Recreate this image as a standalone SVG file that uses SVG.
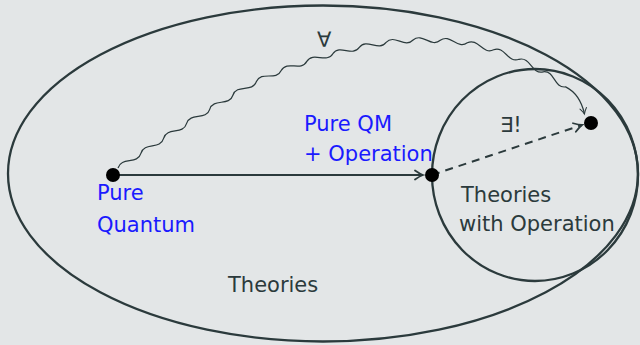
<svg xmlns="http://www.w3.org/2000/svg" width="640" height="345" viewBox="0 0 640 345">
<defs>
<style>
.bg{fill:#e3e6e7}
.set{fill:none;stroke:#2b3a3c;stroke-width:2.3}
.edge{fill:none;stroke:#2b3a3c;stroke-width:2}
.snake{fill:none;stroke:#2b3a3c;stroke-width:1.2}
.dot{fill:#000}
.lbl{font-family:"DejaVu Sans",sans-serif;font-size:21px;fill:#2b3a3c}
.blue{font-family:"DejaVu Sans",sans-serif;font-size:21px;fill:#1a1aff}
</style>
<marker id="arr" viewBox="-10 -6 12 12" refX="0" refY="0" markerWidth="12" markerHeight="12" markerUnits="userSpaceOnUse" orient="auto">
<path d="M-8,-4.5 Q-3,-1 0,0 Q-3,1 -8,4.5" fill="none" stroke="#2b3a3c" stroke-width="1.8" stroke-linecap="round"/>
</marker>
<marker id="arrs" viewBox="-10 -6 12 12" refX="0" refY="0" markerWidth="10" markerHeight="10" markerUnits="userSpaceOnUse" orient="auto">
<path d="M-7,-4 Q-3,-1 0,0 Q-3,1 -7,4" fill="none" stroke="#2b3a3c" stroke-width="1.2" stroke-linecap="round"/>
</marker>
</defs>
<rect class="bg" x="0" y="0" width="640" height="345"/>
<g id="theories">
<ellipse class="set" cx="323" cy="173.5" rx="315" ry="168"/>
<text class="lbl" x="228" y="292">Theories</text>
</g>
<g id="theories-with-operation">
<ellipse class="set" cx="535" cy="175" rx="103" ry="106"/>
<text class="lbl" x="461" y="202">Theories</text>
<text class="lbl" x="459" y="231">with Operation</text>
</g>
<g id="connectors">
<line class="edge" x1="113" y1="175" x2="423" y2="175" marker-end="url(#arr)"/>
<line class="edge" x1="432" y1="175" x2="582" y2="125" stroke-dasharray="8,6" marker-end="url(#arr)"/>
<path class="snake" marker-end="url(#arrs)" d="M118,168 C121.3,156.4 137.6,164.9 140.9,153.3 C144.1,141.6 160.4,150 163.6,138.3 C166.9,126.7 183.2,135.2 186.5,123.6 C190,112 206.2,120.9 209.7,109.3 C213.3,97.8 229.3,106.7 232.9,95.2 C236.7,83.7 252.6,93 256.4,81.5 C261.4,70.5 276.2,81.5 281.2,70.5 C287.1,59.9 301,72 306.8,61.4 C313.2,51.2 326.5,63.9 332.9,53.7 C339.9,43.8 352.4,57.3 359.3,47.4 C366.7,37.8 378.7,51.9 386.1,42.3 C394.4,33.6 404.8,48.7 413.1,40 C422.3,32.1 431.1,48.2 440.3,40.3 C450,33.2 457.6,49.9 467.3,42.8 C478.1,37.4 482.8,55.2 493.6,49.8 C504.9,45.5 507.7,63.6 519,59.3 C530.8,56.4 531.5,74.7 543.2,71.8 C555.1,70.2 553.7,88.5 565.6,86.9 Q580,94 584.5,114"/>
<text class="lbl" x="317" y="47">∀</text>
<text class="lbl" x="500" y="132">∃!</text>
</g>
<g id="pure-quantum">
<circle class="dot" cx="113" cy="175" r="7"/>
<text class="blue" x="97" y="200">Pure</text>
<text class="blue" x="97" y="232">Quantum</text>
</g>
<g id="pure-qm-operation">
<circle class="dot" cx="432" cy="175" r="7"/>
<text class="blue" x="304" y="131">Pure QM</text>
<text class="blue" x="304" y="161">+ Operation</text>
</g>
<g id="unique-theory">
<circle class="dot" cx="591" cy="123" r="7"/>
</g>
</svg>
